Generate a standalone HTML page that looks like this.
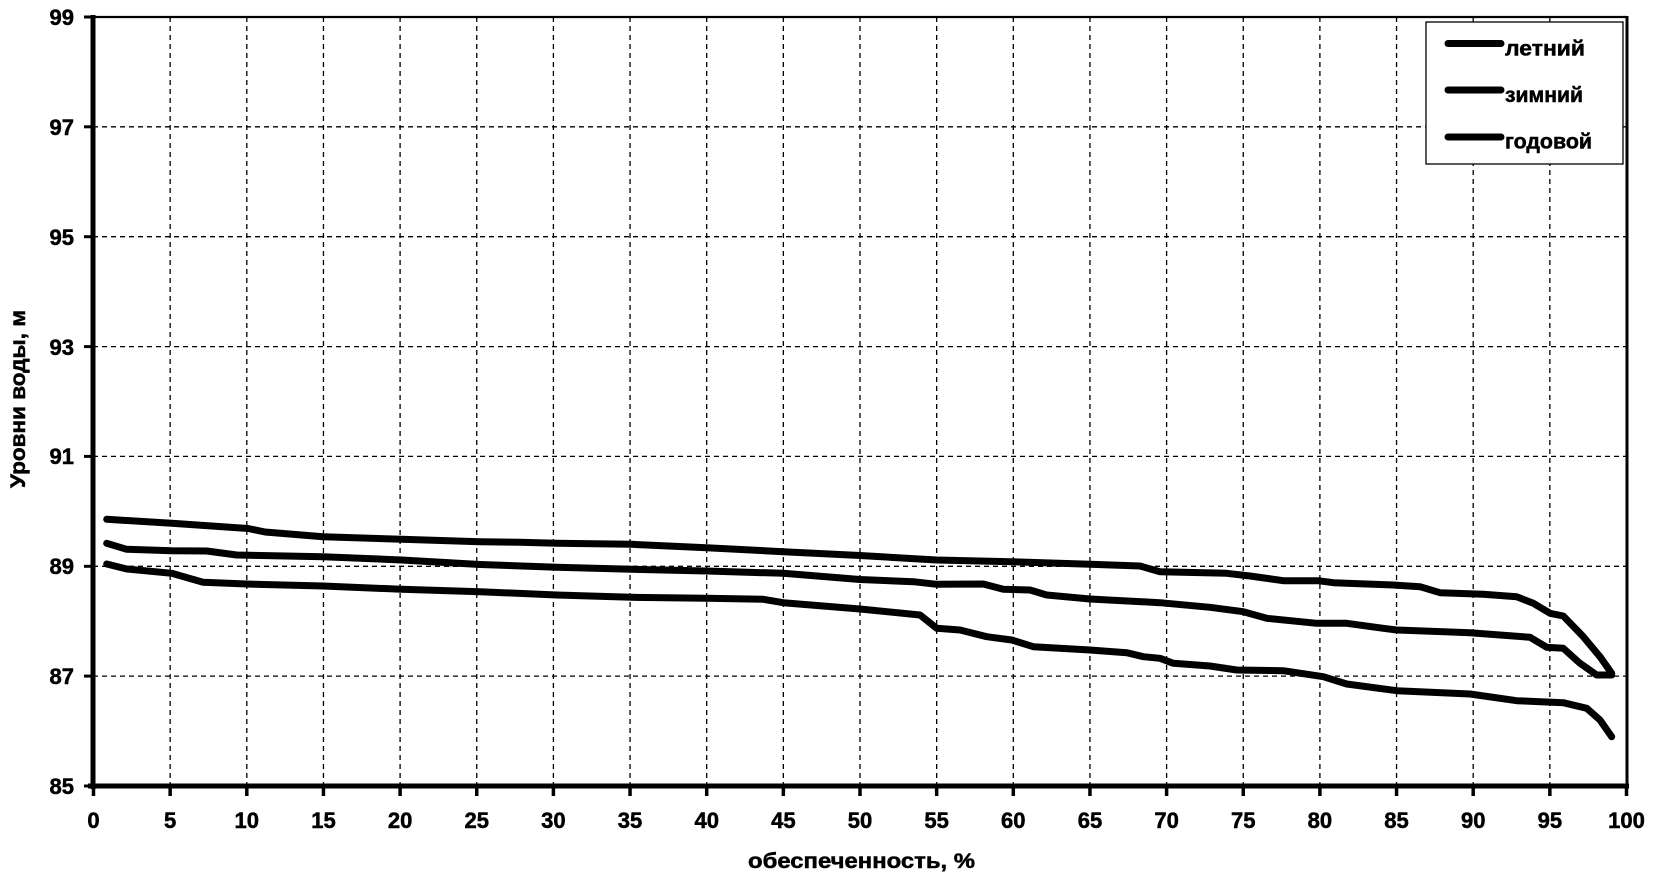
<!DOCTYPE html>
<html>
<head>
<meta charset="utf-8">
<style>
  html, body { margin:0; padding:0; background:#fff; }
  body { width:1654px; height:877px; overflow:hidden; }
  svg { display:block; }
  text { font-family: "Liberation Sans", "DejaVu Sans", sans-serif; font-weight:bold; fill:#000; stroke:#000; stroke-width:0.5; }
</style>
</head>
<body>
<svg width="1654" height="877" viewBox="0 0 1654 877" xmlns="http://www.w3.org/2000/svg">
  <rect x="0" y="0" width="1654" height="877" fill="#fff"/>

  <!-- vertical grid -->
  <g stroke="#000" stroke-width="1.3" stroke-dasharray="5,4" fill="none">
    <line x1="170.15" y1="17" x2="170.15" y2="786"/>
    <line x1="246.8" y1="17" x2="246.8" y2="786"/>
    <line x1="323.45" y1="17" x2="323.45" y2="786"/>
    <line x1="400.1" y1="17" x2="400.1" y2="786"/>
    <line x1="476.75" y1="17" x2="476.75" y2="786"/>
    <line x1="553.4" y1="17" x2="553.4" y2="786"/>
    <line x1="630.05" y1="17" x2="630.05" y2="786"/>
    <line x1="706.7" y1="17" x2="706.7" y2="786"/>
    <line x1="783.35" y1="17" x2="783.35" y2="786"/>
    <line x1="860" y1="17" x2="860" y2="786"/>
    <line x1="936.65" y1="17" x2="936.65" y2="786"/>
    <line x1="1013.3" y1="17" x2="1013.3" y2="786"/>
    <line x1="1089.95" y1="17" x2="1089.95" y2="786"/>
    <line x1="1166.6" y1="17" x2="1166.6" y2="786"/>
    <line x1="1243.25" y1="17" x2="1243.25" y2="786"/>
    <line x1="1319.9" y1="17" x2="1319.9" y2="786"/>
    <line x1="1396.55" y1="17" x2="1396.55" y2="786"/>
    <line x1="1473.2" y1="17" x2="1473.2" y2="786"/>
    <line x1="1549.85" y1="17" x2="1549.85" y2="786"/>
  </g>
  <!-- horizontal grid -->
  <g stroke="#000" stroke-width="1.3" stroke-dasharray="5,4" fill="none">
    <line x1="93" y1="676.1" x2="1627" y2="676.1"/>
    <line x1="93" y1="566.3" x2="1627" y2="566.3"/>
    <line x1="93" y1="456.4" x2="1627" y2="456.4"/>
    <line x1="93" y1="346.6" x2="1627" y2="346.6"/>
    <line x1="93" y1="236.7" x2="1627" y2="236.7"/>
    <line x1="93" y1="126.8" x2="1627" y2="126.8"/>
  </g>

  <!-- frame -->
  <line x1="93" y1="17" x2="1627" y2="17" stroke="#000" stroke-width="2.2"/>
  <line x1="1627" y1="16" x2="1627" y2="788" stroke="#000" stroke-width="3"/>
  <line x1="93" y1="15" x2="93" y2="789" stroke="#000" stroke-width="5"/>
  <line x1="88" y1="786" x2="1629" y2="786" stroke="#000" stroke-width="5"/>

  <!-- y ticks -->
  <g stroke="#000" stroke-width="3">
    <line x1="84" y1="786" x2="93" y2="786"/>
    <line x1="84" y1="676.1" x2="93" y2="676.1"/>
    <line x1="84" y1="566.3" x2="93" y2="566.3"/>
    <line x1="84" y1="456.4" x2="93" y2="456.4"/>
    <line x1="84" y1="346.6" x2="93" y2="346.6"/>
    <line x1="84" y1="236.7" x2="93" y2="236.7"/>
    <line x1="84" y1="126.8" x2="93" y2="126.8"/>
    <line x1="84" y1="17" x2="93" y2="17"/>
  </g>
  <!-- x ticks -->
  <g stroke="#000" stroke-width="3.5">
    <line x1="93.5" y1="786" x2="93.5" y2="796"/>
    <line x1="170.15" y1="786" x2="170.15" y2="796"/>
    <line x1="246.8" y1="786" x2="246.8" y2="796"/>
    <line x1="323.45" y1="786" x2="323.45" y2="796"/>
    <line x1="400.1" y1="786" x2="400.1" y2="796"/>
    <line x1="476.75" y1="786" x2="476.75" y2="796"/>
    <line x1="553.4" y1="786" x2="553.4" y2="796"/>
    <line x1="630.05" y1="786" x2="630.05" y2="796"/>
    <line x1="706.7" y1="786" x2="706.7" y2="796"/>
    <line x1="783.35" y1="786" x2="783.35" y2="796"/>
    <line x1="860" y1="786" x2="860" y2="796"/>
    <line x1="936.65" y1="786" x2="936.65" y2="796"/>
    <line x1="1013.3" y1="786" x2="1013.3" y2="796"/>
    <line x1="1089.95" y1="786" x2="1089.95" y2="796"/>
    <line x1="1166.6" y1="786" x2="1166.6" y2="796"/>
    <line x1="1243.25" y1="786" x2="1243.25" y2="796"/>
    <line x1="1319.9" y1="786" x2="1319.9" y2="796"/>
    <line x1="1396.55" y1="786" x2="1396.55" y2="796"/>
    <line x1="1473.2" y1="786" x2="1473.2" y2="796"/>
    <line x1="1549.85" y1="786" x2="1549.85" y2="796"/>
    <line x1="1626.5" y1="786" x2="1626.5" y2="796"/>
  </g>

  <!-- y labels -->
  <g font-size="22" text-anchor="end">
    <text x="74" y="794">85</text>
    <text x="74" y="684">87</text>
    <text x="74" y="574">89</text>
    <text x="74" y="464">91</text>
    <text x="74" y="355">93</text>
    <text x="74" y="245">95</text>
    <text x="74" y="135">97</text>
    <text x="74" y="25">99</text>
  </g>
  <!-- x labels -->
  <g font-size="22" text-anchor="middle">
    <text x="93.5" y="828">0</text>
    <text x="170.15" y="828">5</text>
    <text x="246.8" y="828">10</text>
    <text x="323.45" y="828">15</text>
    <text x="400.1" y="828">20</text>
    <text x="476.75" y="828">25</text>
    <text x="553.4" y="828">30</text>
    <text x="630.05" y="828">35</text>
    <text x="706.7" y="828">40</text>
    <text x="783.35" y="828">45</text>
    <text x="860" y="828">50</text>
    <text x="936.65" y="828">55</text>
    <text x="1013.3" y="828">60</text>
    <text x="1089.95" y="828">65</text>
    <text x="1166.6" y="828">70</text>
    <text x="1243.25" y="828">75</text>
    <text x="1319.9" y="828">80</text>
    <text x="1396.55" y="828">85</text>
    <text x="1473.2" y="828">90</text>
    <text x="1549.85" y="828">95</text>
    <text x="1626.5" y="828">100</text>
  </g>

  <!-- axis titles -->
  <text x="861.5" y="868" font-size="21" text-anchor="middle" textLength="227" lengthAdjust="spacingAndGlyphs">обеспеченность, %</text>
  <text transform="translate(25,399) rotate(-90)" x="0" y="0" font-size="21" text-anchor="middle" textLength="178" lengthAdjust="spacingAndGlyphs">Уровни воды, м</text>

  <!-- series -->
  <g fill="none" stroke="#000" stroke-width="7" stroke-linecap="round" stroke-linejoin="round">
    <polyline points="106.7,519.3 171.7,523.3 248,528.5 265,532 323,536.7 401.7,539.3 480,541.7 520,542.3 556.7,543.3 631.7,544.3 706.7,547.7 783.3,551.7 860,555.5 936.7,560 1011.7,561.7 1090,564.3 1140,566 1160,571.7 1226.7,573.3 1250,576 1283.3,580.7 1318.3,580.7 1333.3,582.7 1393.3,585 1420,586.7 1440,592.7 1483.3,594.3 1516.7,596.7 1533.3,603.3 1550,613.3 1563.3,616 1583.3,636.7 1600,656.7 1611.7,673.3"/>
    <polyline points="106.7,543.3 126.7,549.3 171.7,550.7 206.7,551 236.7,555 323,556.7 401.7,560 480,564.5 556.7,567.3 631.7,569.3 706.7,571 783.3,573.3 860,579.5 913.3,581.7 936.7,584.3 983.3,584 1003.3,589.3 1030,590 1046.7,595 1090,599 1160,602.7 1210,607.3 1243.3,611.7 1266.7,618.3 1316.7,623.3 1346.7,623.3 1383.3,628.3 1396.7,630 1470,632.7 1530,637.3 1546.7,647.3 1563.3,648.3 1580,663.3 1596.7,675 1611.7,675"/>
    <polyline points="106.7,564 126.7,569 171.7,573.3 203,582.3 246.7,584 323,586 401.7,589.3 480,591.7 556.7,595 631.7,597.3 706.7,598.3 763.3,599.3 783.3,602.7 860,609 920,615 936.7,628.3 960,630 986.7,636.7 1011.7,640 1033.3,646.7 1090,650 1126.7,652.7 1143.3,656.7 1160,658.3 1173.3,663.3 1210,666 1236.7,670 1283.3,670.7 1323.3,676.7 1346.7,684 1396.7,690.7 1470,694 1516.7,700.7 1563.3,702.7 1586.7,708.3 1600,720 1611.7,736.7"/>
  </g>

  <!-- legend -->
  <rect x="1426" y="22" width="197" height="142" fill="#fff" stroke="#000" stroke-width="1.3"/>
  <g stroke="#000" stroke-width="7" stroke-linecap="round">
    <line x1="1448" y1="43.5" x2="1501" y2="43.5"/>
    <line x1="1448" y1="90" x2="1501" y2="90"/>
    <line x1="1448" y1="137" x2="1501" y2="137"/>
  </g>
  <g font-size="21">
    <text x="1505" y="55.5" textLength="80" lengthAdjust="spacingAndGlyphs">летний</text>
    <text x="1505" y="102" textLength="78" lengthAdjust="spacingAndGlyphs">зимний</text>
    <text x="1505" y="148.5" textLength="87" lengthAdjust="spacingAndGlyphs">годовой</text>
  </g>
</svg>
</body>
</html>
